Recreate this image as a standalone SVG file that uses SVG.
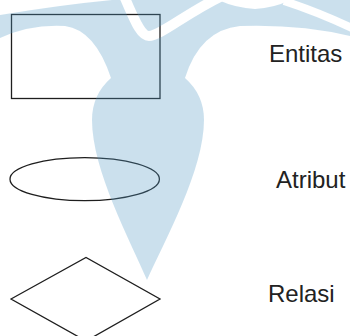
<svg xmlns="http://www.w3.org/2000/svg" width="350" height="336" viewBox="0 0 350 336">
  <style>
    .shape { fill: none; stroke: #1e1e1e; stroke-width: 1.3; }
    .label { font-family: "Liberation Sans", Arial, sans-serif; font-size: 24px; fill: #222; }
  </style>
  <defs>
    <mask id="wm" maskUnits="userSpaceOnUse" x="0" y="0" width="350" height="336">
      <path d="M0,15 Q60,5 112,0 L350,0 L350,36 Q300,24 240,26 Q200,30 185,78 A56,56 0 0 1 204,120 C204,170 165,240 147,280 C130,240 92,170 92,120 A56,56 0 0 1 111,78 Q95,30 65,26 Q30,24 0,38 Z" fill="#fff"/>
      <path d="M124,-4 C134,18 140,36 149,36 C160,36 185,14 222,-4" fill="none" stroke="#000" stroke-width="10"/>
      <path d="M216,-1 Q235,8 255,9 Q275,8 292,-1 Z" fill="#000"/>
      <path d="M284,1 Q318,12 354,29" fill="none" stroke="#000" stroke-width="8"/>
    </mask>
  </defs>
  <rect width="350" height="336" fill="#fff"/>
  <g id="connectors"></g>
  <g id="entitas">
    <rect class="shape" x="11.5" y="14.5" width="148.5" height="84"/>
    <text class="label" x="269" y="62">Entitas</text>
  </g>
  <g id="atribut">
    <ellipse class="shape" cx="84.7" cy="179.2" rx="74.7" ry="21.5"/>
    <text class="label" x="276" y="188">Atribut</text>
  </g>
  <g id="relasi">
    <polygon class="shape" points="11,299 86,257.5 160,299 86,341"/>
    <text class="label" x="268" y="302">Relasi</text>
  </g>
  <g id="watermark">
    <rect width="350" height="336" fill="#559bc6" opacity="0.3" mask="url(#wm)"/>
  </g>
</svg>
